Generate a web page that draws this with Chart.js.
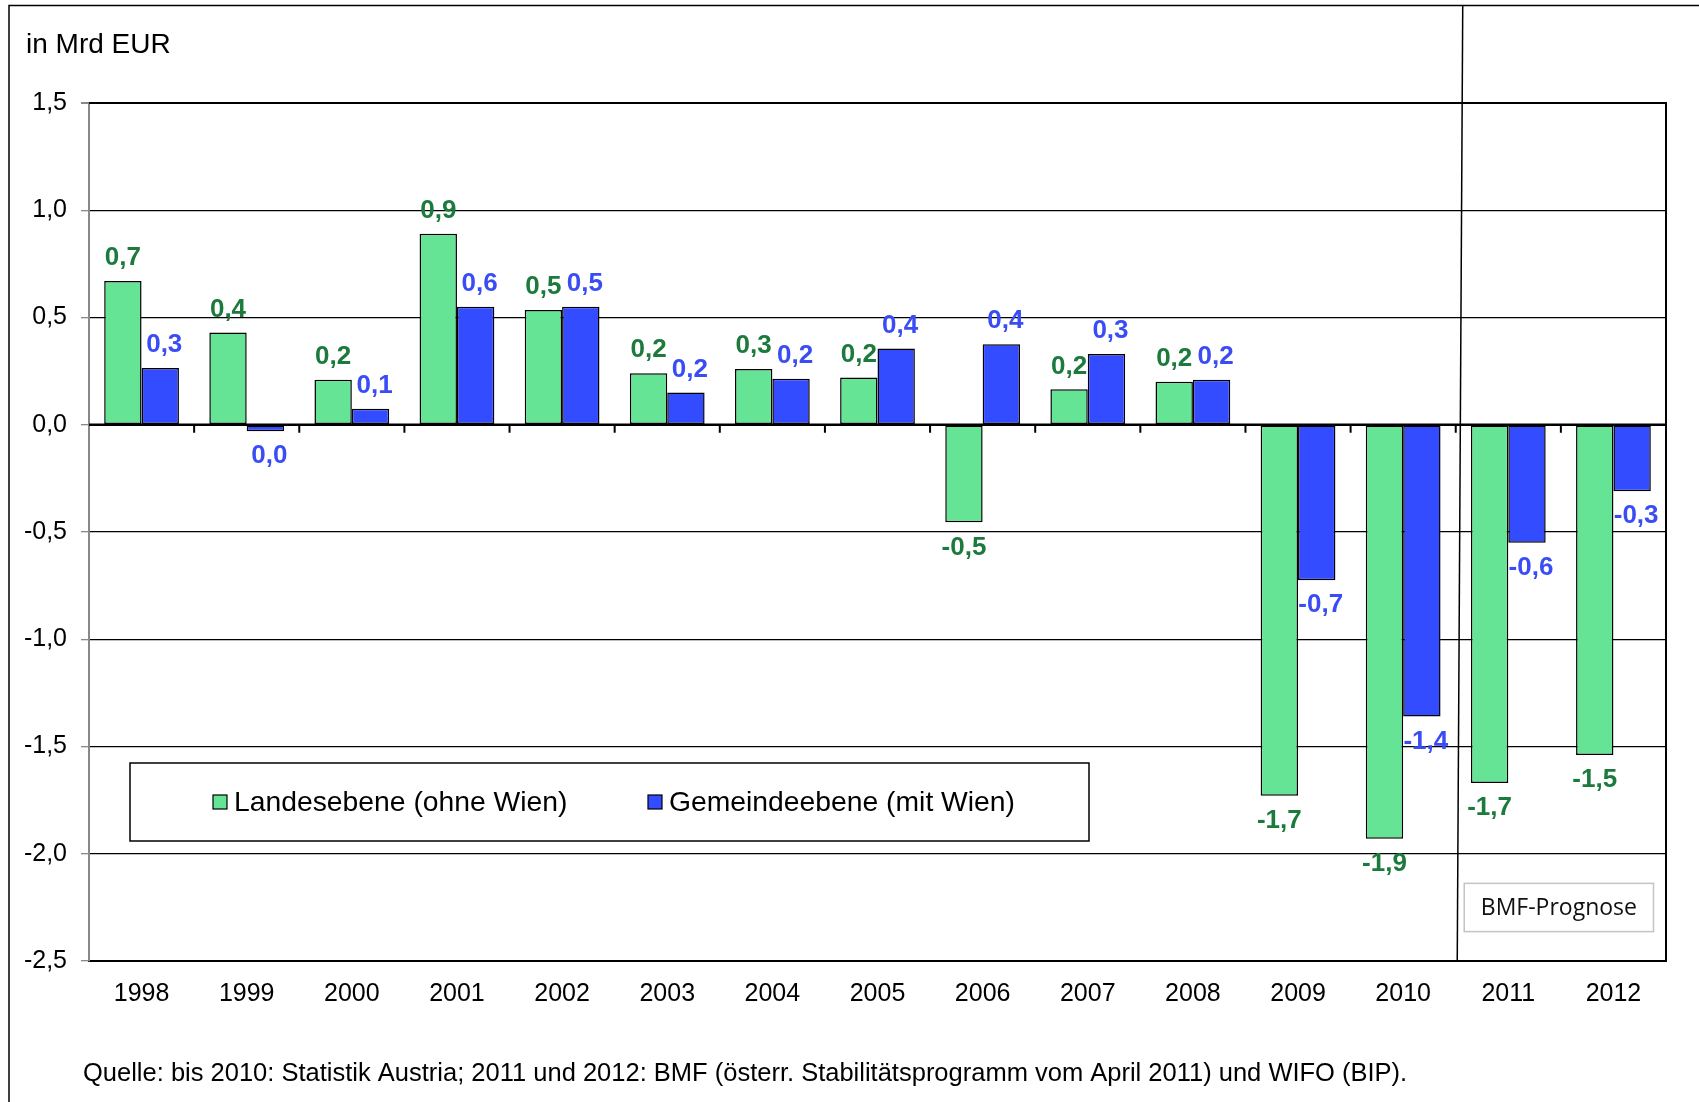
<!DOCTYPE html>
<html><head><meta charset="utf-8">
<script src="https://cdn.jsdelivr.net/npm/chart.js@4/dist/chart.umd.min.js"></script>
<style>html,body{margin:0;padding:0;background:#fff;overflow:hidden}</style>
</head><body>
<canvas id="c" width="1699" height="1102" style="display:block;width:1699px;height:1102px"></canvas>
<script>
const years = ['1998','1999','2000','2001','2002','2003','2004','2005','2006','2007','2008','2009','2010','2011','2012'];
const landes = [0.67,0.43,0.21,0.89,0.535,0.24,0.26,0.22,-0.455,0.165,0.20,-1.73,-1.93,-1.67,-1.54];
const gemeinde = [0.265,-0.03,0.075,0.55,0.55,0.15,0.215,0.355,0.375,0.33,0.21,-0.725,-1.36,-0.55,-0.31];
const landesLabels = ['0,7','0,4','0,2','0,9','0,5','0,2','0,3','0,2','-0,5','0,2','0,2','-1,7','-1,9','-1,7','-1,5'];
const gemeindeLabels = ['0,3','0,0','0,1','0,6','0,5','0,2','0,2','0,4','0,4','0,3','0,2','-0,7','-1,4','-0,6','-0,3'];
const seriesNames = ['Landesebene (ohne Wien)','Gemeindeebene (mit Wien)'];
const yMin = -2.5, yMax = 1.5, yStep = 0.5;
const unitText = 'in Mrd EUR';
const sourceText = 'Quelle: bis 2010: Statistik Austria; 2011 und 2012: BMF (österr. Stabilitätsprogramm vom April 2011) und WIFO (BIP).';
const forecastText = 'BMF-Prognose';
const forecastStartIndex = 13;

const GREEN = '#66E495', BLUE = '#344CFF';
const GREEN_TXT = '#1B7A3C', BLUE_TXT = '#3A4DF5';
const FONT = '"Liberation Sans", Arial, Helvetica, sans-serif';

const decor = {
  id: 'decor',
  beforeDraw(chart) {
    const c = chart.ctx;
    c.save();
    c.fillStyle = '#fff';
    c.fillRect(0, 0, chart.width, chart.height);
    c.strokeStyle = '#000';
    c.lineWidth = 1.5;
    c.beginPath();
    c.moveTo(9, chart.height);
    c.lineTo(9, 5.5);
    c.lineTo(chart.width, 5.5);
    c.stroke();
    c.fillStyle = '#000';
    c.font = '28px ' + FONT;
    c.textBaseline = 'middle';
    c.textAlign = 'left';
    c.fillText(unitText, 26, 45);
    c.font = '25.5px ' + FONT;
    c.fillText(sourceText, 83, 1074);
    c.restore();
  },
  afterDatasetsDraw(chart) {
    const c = chart.ctx;
    const x = chart.scales.x, y = chart.scales.y;
    const area = chart.chartArea;
    const y0 = y.getPixelForValue(0);
    c.save();
    // frame right + top
    c.strokeStyle = '#000';
    c.lineWidth = 2;
    c.beginPath();
    c.moveTo(area.left, area.top);
    c.lineTo(area.right, area.top);
    c.lineTo(area.right, area.bottom);
    c.stroke();
    // x tick marks on zero line
    c.beginPath();
    for (let i = 1; i < years.length; i++) {
      const bx = (x.getPixelForValue(i - 1) + x.getPixelForValue(i)) / 2;
      c.moveTo(bx, y0);
      c.lineTo(bx, y0 + 8);
    }
    c.moveTo(area.right, y0);
    c.lineTo(area.right, y0 + 8);
    c.stroke();
    // zero line
    c.lineWidth = 2.5;
    c.beginPath();
    c.moveTo(area.left, y0);
    c.lineTo(area.right, y0);
    c.stroke();
    // forecast separator
    const sx = (x.getPixelForValue(forecastStartIndex - 1) + x.getPixelForValue(forecastStartIndex)) / 2;
    c.lineWidth = 1.5;
    c.beginPath();
    c.moveTo(sx + 7, 6);
    c.lineTo(sx + 1.5, area.bottom);
    c.stroke();
    // forecast box
    const bxL = sx + 8.5, bxR = area.right - 12.5, byT = y.getPixelForValue(-2.138), byB = y.getPixelForValue(-2.363);
    c.fillStyle = '#fff';
    c.fillRect(bxL, byT, bxR - bxL, byB - byT);
    c.strokeStyle = '#c4c4c4';
    c.lineWidth = 1.5;
    c.strokeRect(bxL, byT, bxR - bxL, byB - byT);
    c.fillStyle = '#111';
    c.font = '23px "Open Sans", ' + FONT;
    c.textAlign = 'center';
    c.textBaseline = 'middle';
    c.fillText(forecastText, (bxL + bxR) / 2, (byT + byB) / 2 + 1);
    // legend
    const lgL = 130, lgT = 763, lgW = 959, lgH = 78;
    c.fillStyle = '#fff';
    c.fillRect(lgL, lgT, lgW, lgH);
    c.strokeStyle = '#000';
    c.lineWidth = 1.5;
    c.strokeRect(lgL, lgT, lgW, lgH);
    const items = [[GREEN, seriesNames[0], 213], [BLUE, seriesNames[1], 648]];
    c.font = '28.3px ' + FONT;
    c.textAlign = 'left';
    items.forEach(([col, txt, ix]) => {
      c.fillStyle = col;
      c.fillRect(ix, 795, 14, 14);
      c.strokeStyle = '#000';
      c.lineWidth = 1.2;
      c.strokeRect(ix, 795, 14, 14);
      c.fillStyle = '#000';
      c.fillText(txt, ix + 21, 803);
    });
    // data labels
    c.font = 'bold 26px ' + FONT;
    c.textAlign = 'center';
    c.textBaseline = 'middle';
    const lbls = [landesLabels, gemeindeLabels];
    const cols = [GREEN_TXT, BLUE_TXT];
    chart.data.datasets.forEach((ds, di) => {
      const meta = chart.getDatasetMeta(di);
      meta.data.forEach((bar, i) => {
        const v = ds.data[i];
        const ly = v >= 0 ? bar.y - 23 : bar.y + 25;
        c.fillStyle = cols[di];
        c.fillText(lbls[di][i], bar.x + (di === 1 ? 4 : 0), ly);
      });
    });
    c.restore();
  }
};

Chart.defaults.font.family = FONT;
Chart.defaults.color = '#000';

new Chart(document.getElementById('c'), {
  type: 'bar',
  data: {
    labels: years,
    datasets: [
      { label: seriesNames[0], data: landes, backgroundColor: GREEN, borderColor: '#000', borderWidth: 1.5, borderSkipped: false, barPercentage: 1.0, categoryPercentage: 0.711 },
      { label: seriesNames[1], data: gemeinde, backgroundColor: BLUE, borderColor: '#000', borderWidth: 1.5, borderSkipped: false, barPercentage: 1.0, categoryPercentage: 0.711 }
    ]
  },
  options: {
    responsive: false,
    maintainAspectRatio: false,
    animation: false,
    devicePixelRatio: 1,
    layout: { padding: { left: 0, right: 33, top: 103, bottom: 0 } },
    plugins: { legend: { display: false }, tooltip: { enabled: false }, title: { display: false } },
    scales: {
      x: {
        grid: { display: false, drawTicks: false },
        border: { display: true, color: '#000', width: 2 },
        ticks: { font: { size: 25 }, color: '#000', padding: 18, maxRotation: 0, autoSkip: false },
        afterFit(s) { s.height = 141; }
      },
      y: {
        min: yMin, max: yMax,
        grid: {
          color: '#000',
          lineWidth: (ctx) => ctx.tick && ctx.tick.value === yMax ? 2 : 1.3,
          tickColor: '#888',
          tickLength: 8
        },
        border: { display: true, color: '#888', width: 2 },
        ticks: {
          stepSize: yStep, font: { size: 25 }, color: '#000', padding: 14,
          callback: (v) => v.toFixed(1).replace('.', ',')
        },
        afterFit(s) { s.width = 89; }
      }
    }
  },
  plugins: [decor]
});
</script>
</body></html>
